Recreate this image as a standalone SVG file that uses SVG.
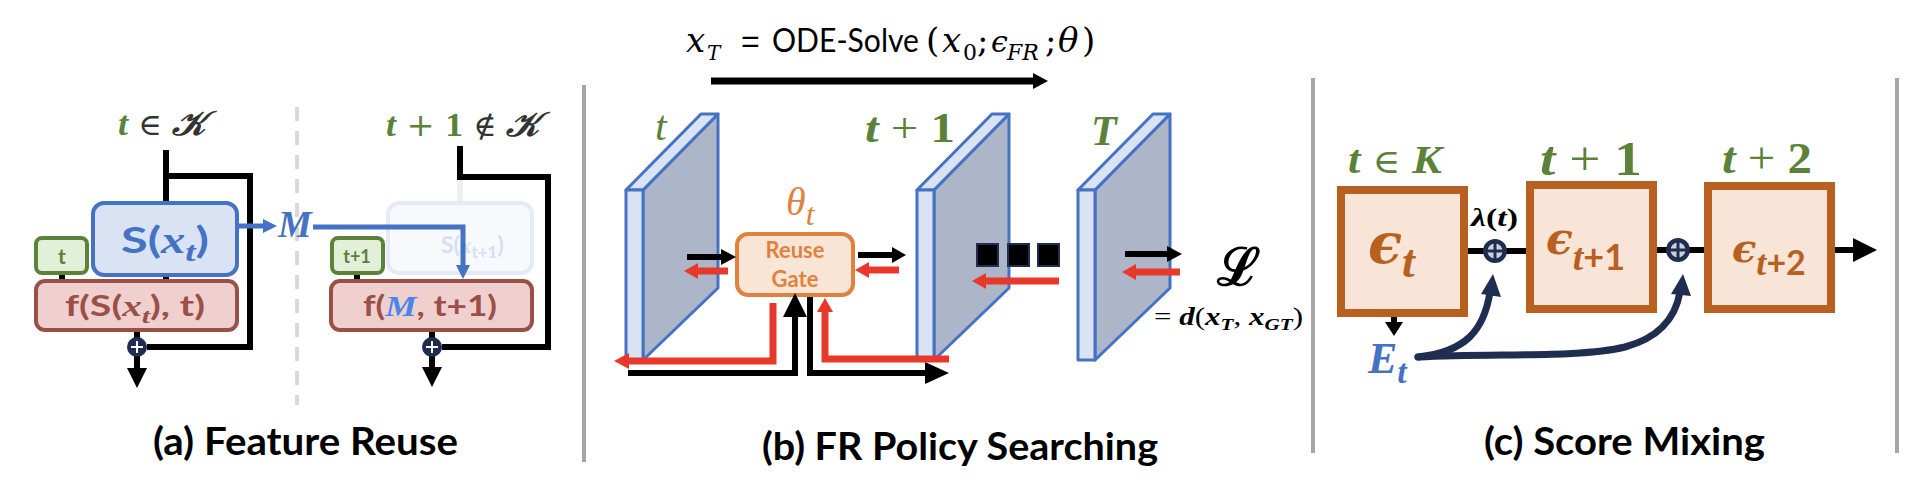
<svg xmlns="http://www.w3.org/2000/svg" xmlns:xlink="http://www.w3.org/1999/xlink" width="1926" height="496" viewBox="0 0 1926 496">
<defs>
<style>
.sans{font-family:Lato,"Open Sans","Liberation Sans",sans-serif;font-weight:bold}
.math{font-family:"Liberation Serif","DejaVu Serif",serif;font-style:italic}
.dv{font-family:"DejaVu Serif","Liberation Serif",serif}
.ln{fill:none;stroke:#000;stroke-width:6}
.red{fill:none;stroke:#e8382a;stroke-width:7}
.redh{fill:#e8382a}
.blk{fill:#000}
.navy{fill:none;stroke:#1f2d50;stroke-width:7;stroke-linecap:round}
.navyh{fill:#1f2d50}
.blue{fill:none;stroke:#4472c4;stroke-width:5}
.blueh{fill:#4472c4}
.green{fill:#5a8239}
.sep{stroke:#a6a6a6;stroke-width:4}
.slab{fill:#dae3f3;stroke:#4472c4;stroke-width:3;stroke-linejoin:round}
.side{fill:#adb6c8;stroke:#4472c4;stroke-width:3;stroke-linejoin:round}
.ebox{fill:#f8e5d8;stroke:#b8601f;stroke-width:8}
.etxt{fill:#b8601f}
.fbox{fill:#efd0ce;stroke:#9b5047;stroke-width:4}
.ftxt{fill:#9b5047}
.tbox{fill:#e2efd9;stroke:#5a8239;stroke-width:4}
</style>
<g id="panel">
<polygon class="side" points="17,190 92,114 92,288 17,360"/>
<polygon class="slab" points="0,190 75,114 92,114 17,190"/>
<polygon class="slab" points="0,190 17,190 17,360 0,360"/>
</g>
<g id="oplus">
<circle r="10" fill="#1f2d50"/>
<path d="M-6,0H6M0,-6V6" stroke="#fff" stroke-width="2"/>
</g>
<g id="oplus2">
<circle r="12" fill="#1f2d50"/>
<circle r="7.5" fill="#c9d0de"/>
<path d="M-8,0H8M0,-8V8" stroke="#1f2d50" stroke-width="3"/>
</g>
</defs>
<rect width="1926" height="496" fill="#fff"/>

<g id="separators">
<line x1="297" y1="107" x2="297" y2="405" stroke="#d9d9d9" stroke-width="4" stroke-dasharray="14 10"/>
<line class="sep" x1="584" y1="85" x2="584" y2="462"/>
<line class="sep" x1="1313" y1="78" x2="1313" y2="453"/>
<line class="sep" x1="1897" y1="78" x2="1897" y2="453"/>
</g>

<!-- ===== Panel (a) ===== -->
<g id="label-a-left">
<text x="118" y="135" font-size="34" textLength="88" lengthAdjust="spacingAndGlyphs"><tspan class="math green" font-weight="bold">t</tspan><tspan class="dv" fill="#333" font-size="30"> ∈ </tspan><tspan class="dv" fill="#333" font-style="italic" font-weight="bold">𝒦</tspan></text>
</g>
<g id="label-a-right">
<text x="386" y="136" font-size="34" textLength="154" lengthAdjust="spacingAndGlyphs"><tspan class="math green" font-weight="bold">t</tspan><tspan class="dv green" font-size="32"> + </tspan><tspan class="green" font-family="Liberation Serif" font-weight="bold">1</tspan><tspan class="dv" fill="#333" font-size="30"> ∉ </tspan><tspan class="dv" fill="#333" font-style="italic" font-weight="bold">𝒦</tspan></text>
</g>

<g id="connectors-a">
<path class="ln" d="M166,150V203"/>
<path class="ln" d="M166,176H250V347H147"/>
<path class="ln" d="M166,274V281"/>
<path class="ln" d="M62,272V281"/>
<path class="ln" d="M137,329V338"/>
<path class="ln" d="M137,356V370"/>
<polygon class="blk" points="127,368 147,368 137,388"/>
<path d="M460,177V203" stroke="#efefef" stroke-width="6"/>
<path class="ln" d="M460,146V177H548V347H442"/>
<path class="ln" d="M357,272V281"/>
<path class="ln" d="M432,329V338"/>
<path class="ln" d="M432,356V369"/>
<polygon class="blk" points="422,367 442,367 432,387"/>
</g>

<g id="node-S">
<rect x="93" y="203" width="144" height="72" rx="11" fill="#dae3f3" stroke="#4472c4" stroke-width="4"/>
<text x="121" y="253" font-size="37" fill="#4472c4" textLength="88" lengthAdjust="spacingAndGlyphs"><tspan class="sans">S(</tspan><tspan class="math" font-weight="bold">x</tspan><tspan class="math" font-weight="bold" font-size="28" dy="8">t</tspan><tspan class="sans" dy="-8">)</tspan></text>
</g>
<g id="node-M">
<text x="278" y="237" font-size="38" class="math" font-weight="bold" fill="#4472c4">M</text>
</g>
<g id="node-tbox">
<rect x="36" y="238" width="51" height="35" rx="6" class="tbox"/>
<text x="62" y="264" font-size="21" text-anchor="middle" class="sans green">t</text>
</g>
<g id="node-f1">
<rect x="36" y="281" width="201" height="49" rx="9" class="fbox"/>
<text x="65" y="316" font-size="29" class="ftxt" textLength="140" lengthAdjust="spacingAndGlyphs"><tspan class="sans">f(S(</tspan><tspan class="math" font-weight="bold">x</tspan><tspan class="math" font-weight="bold" font-size="22" dy="7">t</tspan><tspan class="sans" dy="-7">), t)</tspan></text>
</g>
<g id="node-oplus-a1"><use xlink:href="#oplus" x="137" y="347"/></g>

<g id="node-S-faded">
<rect x="388" y="203" width="144" height="70" rx="11" fill="#f7f9fd" stroke="#e4eaf6" stroke-width="4"/>
<text x="441" y="253" font-size="23" fill="#d6dff0"><tspan class="sans">S(</tspan><tspan class="math" font-weight="bold">x</tspan><tspan class="sans" font-size="17" dy="5">t+1</tspan><tspan class="sans" dy="-5">)</tspan></text>
</g>
<g id="node-t1box">
<rect x="332" y="238" width="51" height="35" rx="6" class="tbox"/>
<text x="357" y="263" font-size="18" text-anchor="middle" class="sans green">t+1</text>
</g>
<g id="node-f2">
<rect x="331" y="281" width="201" height="49" rx="9" class="fbox"/>
<text x="363" y="316" font-size="29" class="ftxt" textLength="134" lengthAdjust="spacingAndGlyphs"><tspan class="sans">f(</tspan><tspan class="math" font-weight="bold" fill="#4a86e8">M</tspan><tspan class="sans">, t+1)</tspan></text>
</g>
<g id="node-oplus-a2"><use xlink:href="#oplus" x="432" y="347"/></g>

<g id="connectors-a-blue">
<path class="blue" d="M237,226H264"/>
<polygon class="blueh" points="263,219 277,226 263,233"/>
<path class="blue" d="M313,227H463V266"/>
<polygon class="blueh" points="456,265 470,265 463,279"/>
</g>

<!-- ===== Panel (b) ===== -->
<g id="formula">
<text x="686" y="52" font-size="34" class="dv" font-style="italic">x<tspan x="707" y="60" font-size="20">T</tspan></text>
<text x="741" y="52" font-size="32" font-family="Liberation Sans">=</text>
<text x="772" y="52" font-size="32" font-family="Lato,'Liberation Sans',sans-serif" textLength="147" lengthAdjust="spacingAndGlyphs">ODE-Solve</text>
<text y="52" font-size="34" class="dv"><tspan x="926">(</tspan><tspan font-style="italic" x="942">x</tspan><tspan x="963" y="60" font-size="22">0</tspan><tspan x="977" y="52">;</tspan><tspan font-style="italic" x="991" font-size="30">ϵ</tspan><tspan font-style="italic" x="1007" y="60" font-size="22">FR</tspan><tspan x="1045" y="52">;</tspan><tspan font-style="italic" x="1058">θ</tspan><tspan x="1082">)</tspan></text>
</g>

<g id="node-panel-t">
<use xlink:href="#panel" x="626"/>
<text x="655" y="140" font-size="42" class="math green">t</text>
</g>
<g id="node-panel-t1">
<use xlink:href="#panel" x="917"/>
<text x="865" y="142" font-size="42" class="green" textLength="90" lengthAdjust="spacingAndGlyphs"><tspan class="math" font-weight="bold">t</tspan><tspan font-family="Liberation Serif"> + </tspan><tspan font-family="Liberation Serif" font-weight="bold">1</tspan></text>
</g>
<g id="node-panel-T">
<use xlink:href="#panel" x="1078"/>
<text x="1091" y="145" font-size="42" class="math green" font-weight="bold">T</text>
</g>
<g id="node-dots">
<rect x="977" y="244" width="21" height="22" fill="#000" stroke="#1f2d50" stroke-width="2"/>
<rect x="1008" y="244" width="21" height="22" fill="#000" stroke="#1f2d50" stroke-width="2"/>
<rect x="1038" y="244" width="21" height="22" fill="#000" stroke="#1f2d50" stroke-width="2"/>
</g>
<g id="node-gate">
<rect x="737" y="234" width="116" height="61" rx="11" fill="#f9e5d6" stroke="#e0823d" stroke-width="4"/>
<text x="795" y="258" font-size="22" text-anchor="middle" class="sans" fill="#e0823d">Reuse</text>
<text x="795" y="287" font-size="22" text-anchor="middle" class="sans" fill="#e0823d">Gate</text>
<text x="786" y="215" font-size="40" class="math" fill="#e0823d">θ<tspan font-size="32" dy="10">t</tspan></text>
</g>
<g id="node-loss">
<text x="1217" y="285" font-size="52" class="dv" font-weight="bold">ℒ</text>
<text x="1154" y="325" font-size="25" textLength="149" lengthAdjust="spacingAndGlyphs"><tspan font-family="Liberation Serif">= </tspan><tspan class="math" font-weight="bold">d</tspan><tspan font-family="Liberation Serif">(</tspan><tspan class="math" font-weight="bold">x</tspan><tspan class="math" font-weight="bold" font-size="17" dy="5">T</tspan><tspan font-family="Liberation Serif" dy="-5">, </tspan><tspan class="math" font-weight="bold">x</tspan><tspan class="math" font-weight="bold" font-size="17" dy="5">GT</tspan><tspan font-family="Liberation Serif" dy="-5">)</tspan></text>
</g>

<g id="connectors-b">
<path d="M711,81H1034" stroke="#000" stroke-width="7"/>
<polygon class="blk" points="1033,73 1048,81 1033,89"/>
<path class="ln" d="M687,257H723"/>
<polygon class="blk" points="721,249 736,257 721,265"/>
<path class="red" d="M728,271H696"/>
<polygon class="redh" points="698,263 684,271 698,279"/>
<path class="ln" d="M858,255H894"/>
<polygon class="blk" points="892,247 906,255 892,263"/>
<path class="red" d="M899,270H867"/>
<polygon class="redh" points="869,262 855,270 869,278"/>
<path class="red" d="M773,303V361H627"/>
<polygon class="redh" points="629,353 614,361 629,369"/>
<path class="ln" d="M628,373H795V315"/>
<polygon class="blk" points="783,317 807,317 795,293"/>
<path class="ln" d="M810,297V373H927"/>
<polygon class="blk" points="925,362 949,373 925,384"/>
<path class="red" d="M949,359H825V310"/>
<polygon class="redh" points="817,312 833,312 825,298"/>
<path class="red" d="M1059,281H984"/>
<polygon class="redh" points="986,273 972,281 986,289"/>
<path class="ln" d="M1125,254H1169"/>
<polygon class="blk" points="1167,246 1182,254 1167,262"/>
<path class="red" d="M1180,272H1134"/>
<polygon class="redh" points="1136,264 1122,272 1136,280"/>
</g>

<!-- ===== Panel (c) ===== -->
<g id="connectors-c">
<path class="ln" d="M1464,251H1531"/>
<path class="ln" d="M1653,250H1708"/>
<path class="ln" d="M1831,250H1855"/>
<polygon class="blk" points="1853,238 1877,250 1853,262"/>
<path class="ln" d="M1394,316V324"/>
<polygon class="blk" points="1385,322 1403,322 1394,336"/>
<path class="navy" d="M1418,357C1466,352 1484,330 1490,292"/>
<polygon class="navyh" points="1481,294 1501,297 1493,274"/>
<path class="navy" d="M1418,357C1500,353 1580,358 1625,347C1662,337 1676,315 1680,292"/>
<polygon class="navyh" points="1671,294 1691,296 1683,274"/>
</g>
<g id="node-eps-t">
<text x="1348" y="173" font-size="40" class="green" textLength="94" lengthAdjust="spacingAndGlyphs"><tspan class="math" font-weight="bold">t</tspan><tspan class="dv" font-size="34"> ∈ </tspan><tspan class="math" font-weight="bold">K</tspan></text>
<rect x="1341" y="190" width="123" height="123" class="ebox"/>
<text x="1368" y="263" font-size="56" class="dv etxt" font-style="italic" font-weight="bold">ϵ<tspan class="math" font-size="46" dy="14">t</tspan></text>
</g>
<g id="node-eps-t1">
<text x="1540" y="175" font-size="48" class="green" textLength="102" lengthAdjust="spacingAndGlyphs"><tspan class="math" font-weight="bold">t</tspan><tspan font-family="Liberation Serif"> + </tspan><tspan font-family="Liberation Serif" font-weight="bold">1</tspan></text>
<rect x="1530" y="185" width="123" height="124" class="ebox"/>
<text x="1546" y="254" font-size="44" class="dv etxt" font-style="italic" font-weight="bold">ϵ<tspan class="math" font-size="38" dy="16">t</tspan><tspan font-family="Lato,'Liberation Sans',sans-serif" font-style="normal" font-size="36">+1</tspan></text>
</g>
<g id="node-eps-t2">
<text x="1722" y="173" font-size="44" class="green" textLength="90" lengthAdjust="spacingAndGlyphs"><tspan class="math" font-weight="bold">t</tspan><tspan font-family="Liberation Serif"> + </tspan><tspan font-family="Liberation Serif" font-weight="bold">2</tspan></text>
<rect x="1708" y="186" width="123" height="123" class="ebox"/>
<text x="1732" y="262" font-size="40" class="dv etxt" font-style="italic" font-weight="bold">ϵ<tspan class="math" font-size="36" dy="13">t</tspan><tspan font-family="Lato,'Liberation Sans',sans-serif" font-style="normal" font-size="34">+2</tspan></text>
</g>
<g id="node-lambda">
<text x="1471" y="226" font-size="26" class="math" font-weight="bold" textLength="47" lengthAdjust="spacingAndGlyphs">λ<tspan font-family="Liberation Serif" font-style="normal">(</tspan>t<tspan font-family="Liberation Serif" font-style="normal">)</tspan></text>
</g>
<g id="node-oplus-c1"><use xlink:href="#oplus2" x="1495" y="251"/></g>
<g id="node-oplus-c2"><use xlink:href="#oplus2" x="1678" y="250"/></g>
<g id="node-E">
<text x="1368" y="373" font-size="44" class="math" font-weight="bold" fill="#4472c4">E<tspan font-size="34" dy="10">t</tspan></text>
</g>

<g id="captions">
<text x="153" y="455" font-size="38" class="sans" textLength="305" lengthAdjust="spacingAndGlyphs">(a) Feature Reuse</text>
<text x="762" y="460" font-size="38" class="sans" textLength="396" lengthAdjust="spacingAndGlyphs">(b) FR Policy Searching</text>
<text x="1484" y="455" font-size="38" class="sans" textLength="281" lengthAdjust="spacingAndGlyphs">(c) Score Mixing</text>
</g>
</svg>
